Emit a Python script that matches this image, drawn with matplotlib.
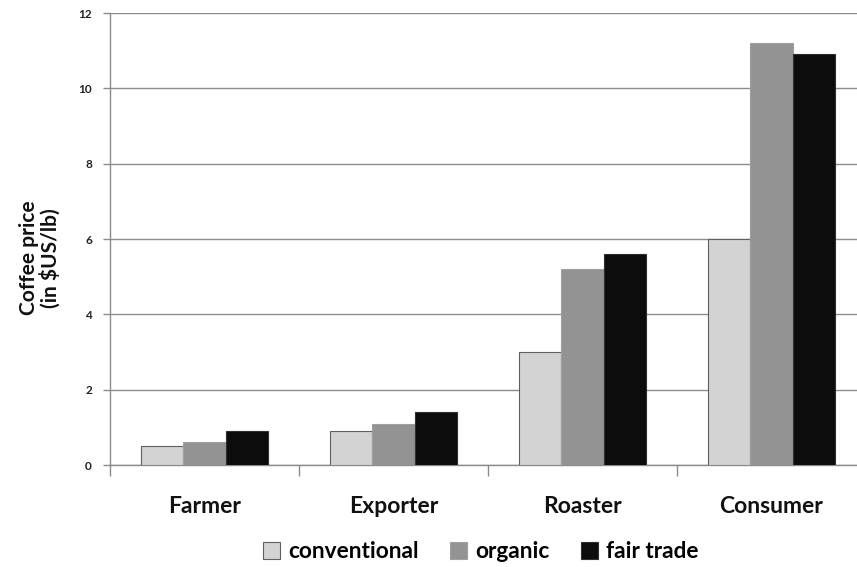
import matplotlib
matplotlib.use("Agg")
import matplotlib.pyplot as plt
import numpy as np

categories = ["Farmer", "Exporter", "Roaster", "Consumer"]
series_names = ["conventional", "organic", "fair trade"]
conventional = [0.5, 0.9, 3.0, 6.0]
organic = [0.6, 1.1, 5.2, 11.2]
fair_trade = [0.9, 1.4, 5.6, 10.9]
yticks = [0, 2, 4, 6, 8, 10, 12]

plt.rcParams['font.family'] = ['Lato', 'DejaVu Sans']

W, H = 857, 567
fig = plt.figure(figsize=(W / 100, H / 100), dpi=100)
ax = fig.add_axes([110 / W, (H - 465) / H, 756 / W, 452 / H])

x = np.arange(len(categories))
bw = 0.224
fills = ["#d3d3d3", "#939393", "#0c0c0c"]
edges = ["#606060", "#a0a0a0", "#303030"]
for i, (vals, name) in enumerate(zip([conventional, organic, fair_trade], series_names)):
    ax.bar(x + (i - 1) * bw, vals, bw, color=fills[i], edgecolor=edges[i],
           linewidth=0.8, label=name, zorder=3)

ax.set_xlim(-0.5, len(categories) - 0.5)
ax.set_ylim(0, 12)
ax.set_yticks(yticks)
ax.set_yticklabels([str(t) for t in yticks], fontsize=8.5, fontweight='bold', color='#222222')
ax.yaxis.grid(True, color='#8c8c8c', linewidth=1.0, zorder=0)
ax.set_axisbelow(True)

ax.set_xticks(np.arange(len(categories) + 1) - 0.5)
ax.set_xticklabels([])
ax.tick_params(axis='x', length=8, color='#8c8c8c', width=1.0, direction='out')
ax.tick_params(axis='y', length=5, color='#8c8c8c', width=1.0, pad=8)
for i, c in enumerate(categories):
    ax.text(i, -1.1, c, ha='center', va='center', fontsize=16.5, fontweight='bold',
            transform=ax.transData, color='#111111')

for s in ['top', 'right']:
    ax.spines[s].set_visible(False)
for s in ['left', 'bottom']:
    ax.spines[s].set_color('#8c8c8c')
    ax.spines[s].set_linewidth(1.0)

fig.text(40 / W, 1 - 258 / H, "Coffee price\n(in $US/lb)", rotation=90, ha='center',
         va='center', fontsize=15, fontweight='bold', color='#111111', linespacing=1.05)

leg = fig.legend(loc='center', bbox_to_anchor=(481 / W, 1 - 552 / H), ncol=3, frameon=False,
                 prop={'size': 16.3, 'weight': 'bold'}, handlelength=0.75, handleheight=0.75,
                 handletextpad=0.35, columnspacing=1.4)

fig.savefig("out.png", dpi=100)
